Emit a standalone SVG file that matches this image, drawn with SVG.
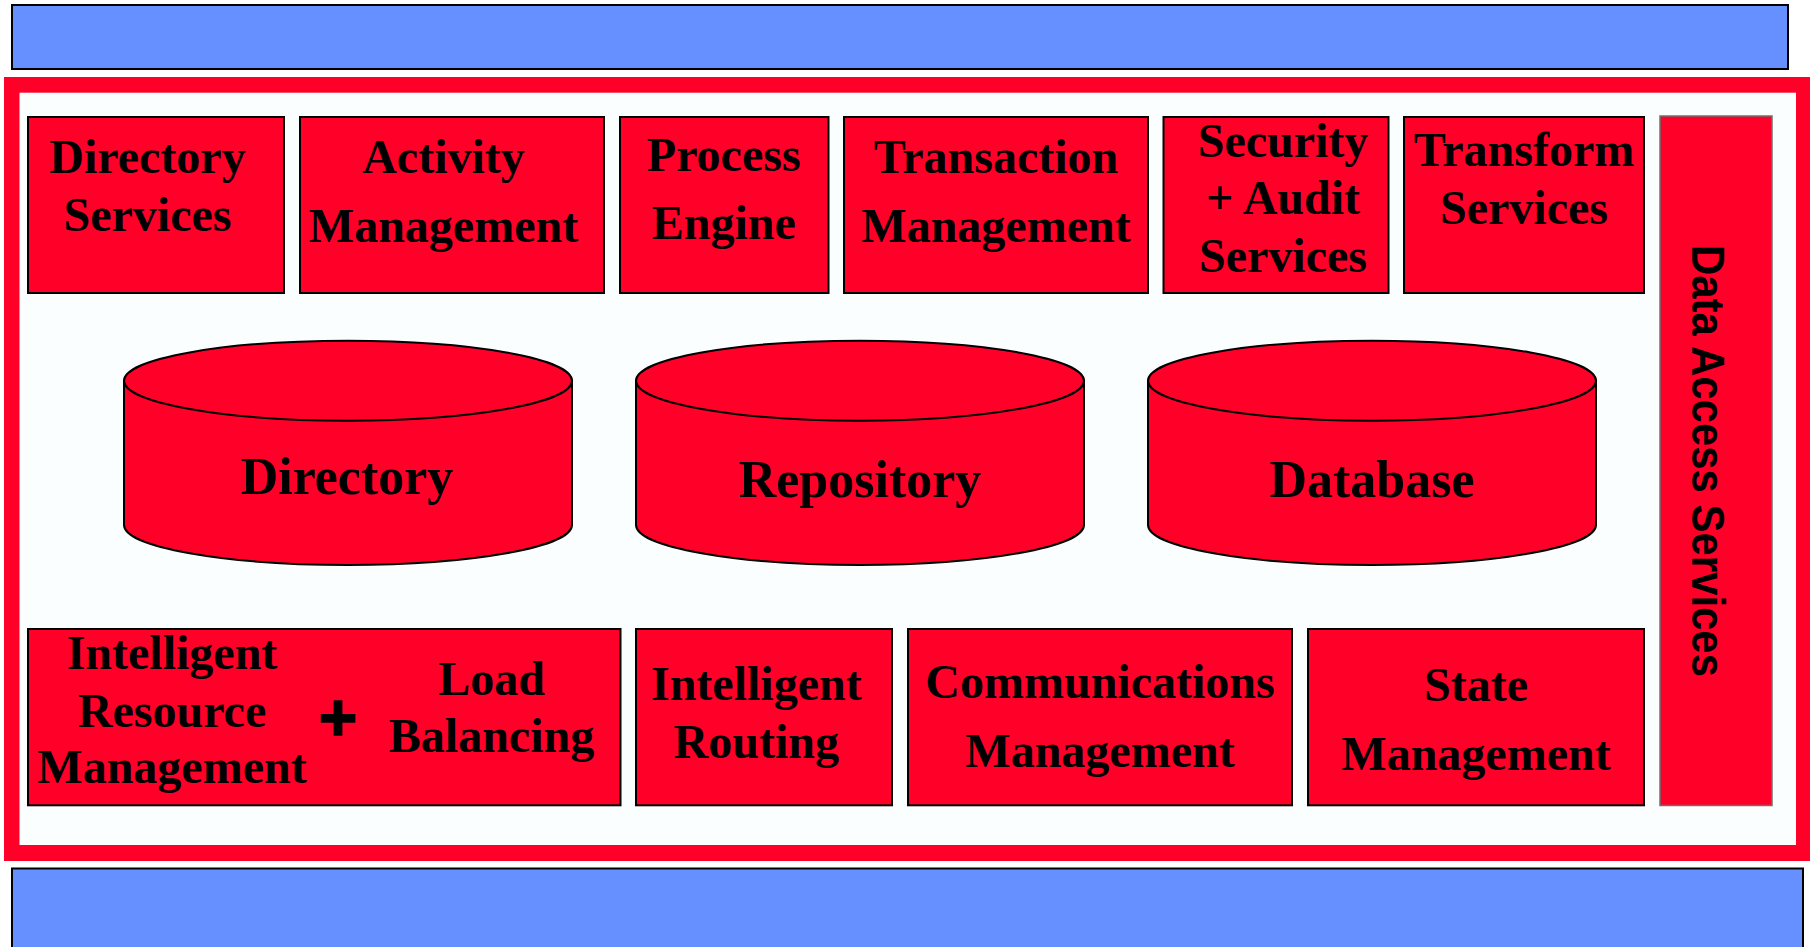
<svg xmlns="http://www.w3.org/2000/svg" width="1810" height="947" viewBox="0 0 1810 947">
<defs>
<style>
.bar{fill:#6690FF;stroke:#000;stroke-width:2}
.box{fill:#FF0029;stroke:#000;stroke-width:2}
.cyl{fill:#FF0029;stroke:#000;stroke-width:2}
.t{font-family:"Liberation Serif","Times New Roman",serif;font-weight:bold;font-size:48px;fill:#000;text-anchor:middle}
.ct{font-family:"Liberation Serif","Times New Roman",serif;font-weight:bold;font-size:52px;fill:#000;text-anchor:middle}
.s{font-family:"Liberation Sans",Arial,sans-serif;font-weight:bold;fill:#000}
</style>
</defs>
<rect width="1810" height="947" fill="#ffffff"/>
<g id="top-bar"><rect class="bar" x="12" y="5" width="1776" height="64"/></g>
<g id="frame">
<rect x="4" y="77" width="1810" height="784" fill="#FF0029"/>
<rect x="19.5" y="92.7" width="1776.5" height="752.3" fill="#FBFEFF"/>
</g>
<g id="bottom-bar"><rect class="bar" x="12" y="868.5" width="1791" height="90"/></g>

<g id="directory-services">
<rect class="box" x="28" y="117" width="256" height="176"/>
<text class="t" x="147.5" y="172.7">Directory</text>
<text class="t" x="147.5" y="231">Services</text>
</g>
<g id="activity-management">
<rect class="box" x="300" y="117" width="304" height="176"/>
<text class="t" x="443.5" y="172.7">Activity</text>
<text class="t" x="443.5" y="241.7">Management</text>
</g>
<g id="process-engine">
<rect class="box" x="620" y="117" width="208.5" height="176"/>
<text class="t" x="723.7" y="171">Process</text>
<text class="t" x="723.7" y="239">Engine</text>
</g>
<g id="transaction-management">
<rect class="box" x="844" y="117" width="304" height="176"/>
<text class="t" x="996" y="172.7">Transaction</text>
<text class="t" x="996" y="241.7">Management</text>
</g>
<g id="security-audit-services">
<rect class="box" x="1163.5" y="117" width="225" height="176"/>
<text class="t" x="1283" y="156.7">Security</text>
<text class="t" x="1283" y="214.3">+ Audit</text>
<text class="t" x="1283" y="271.7">Services</text>
</g>
<g id="transform-services">
<rect class="box" x="1404" y="117" width="240" height="176"/>
<text class="t" x="1524" y="165.7">Transform</text>
<text class="t" x="1524" y="224">Services</text>
</g>
<g id="data-access-services">
<rect x="1660" y="116" width="112" height="689.5" fill="#FF0029" stroke="#707070" stroke-width="1.5"/>
<text class="s" font-size="47" transform="translate(1692,461) rotate(90)" text-anchor="middle" textLength="432" lengthAdjust="spacingAndGlyphs">Data Access Services</text>
</g>

<g id="directory">
<path class="cyl" d="M124,380.7 L124,525 A224,40 0 0 0 572,525 L572,380.7 Z"/>
<ellipse class="cyl" cx="348" cy="380.7" rx="224" ry="40"/>
<text class="ct" x="347" y="494.3">Directory</text>
</g>
<g id="repository">
<path class="cyl" d="M636,380.7 L636,525 A224,40 0 0 0 1084,525 L1084,380.7 Z"/>
<ellipse class="cyl" cx="860" cy="380.7" rx="224" ry="40"/>
<text class="ct" x="860" y="496.7">Repository</text>
</g>
<g id="database">
<path class="cyl" d="M1148,380.7 L1148,525 A224,40 0 0 0 1596,525 L1596,380.7 Z"/>
<ellipse class="cyl" cx="1372" cy="380.7" rx="224" ry="40"/>
<text class="ct" x="1372" y="496.7">Database</text>
</g>

<g id="intelligent-resource-load-balancing">
<rect class="box" x="28" y="629" width="592.5" height="176.3"/>
<text class="t" x="172" y="669">Intelligent</text>
<text class="t" x="172" y="726.7">Resource</text>
<text class="t" x="172" y="783.3">Management</text>
<text class="s" x="338" y="740" font-size="66" text-anchor="middle" stroke="#000" stroke-width="1.5">+</text>
<text class="t" x="491.5" y="695">Load</text>
<text class="t" x="491.5" y="751.7">Balancing</text>
</g>
<g id="intelligent-routing">
<rect class="box" x="636" y="629" width="256" height="176.3"/>
<text class="t" x="756.3" y="700">Intelligent</text>
<text class="t" x="756.3" y="758">Routing</text>
</g>
<g id="communications-management">
<rect class="box" x="908" y="629" width="384" height="176.3"/>
<text class="t" x="1100" y="698">Communications</text>
<text class="t" x="1100" y="766.7">Management</text>
</g>
<g id="state-management">
<rect class="box" x="1308" y="629" width="336" height="176.3"/>
<text class="t" x="1476" y="700.7">State</text>
<text class="t" x="1476" y="770">Management</text>
</g>
<g id="connectors"></g>
</svg>
